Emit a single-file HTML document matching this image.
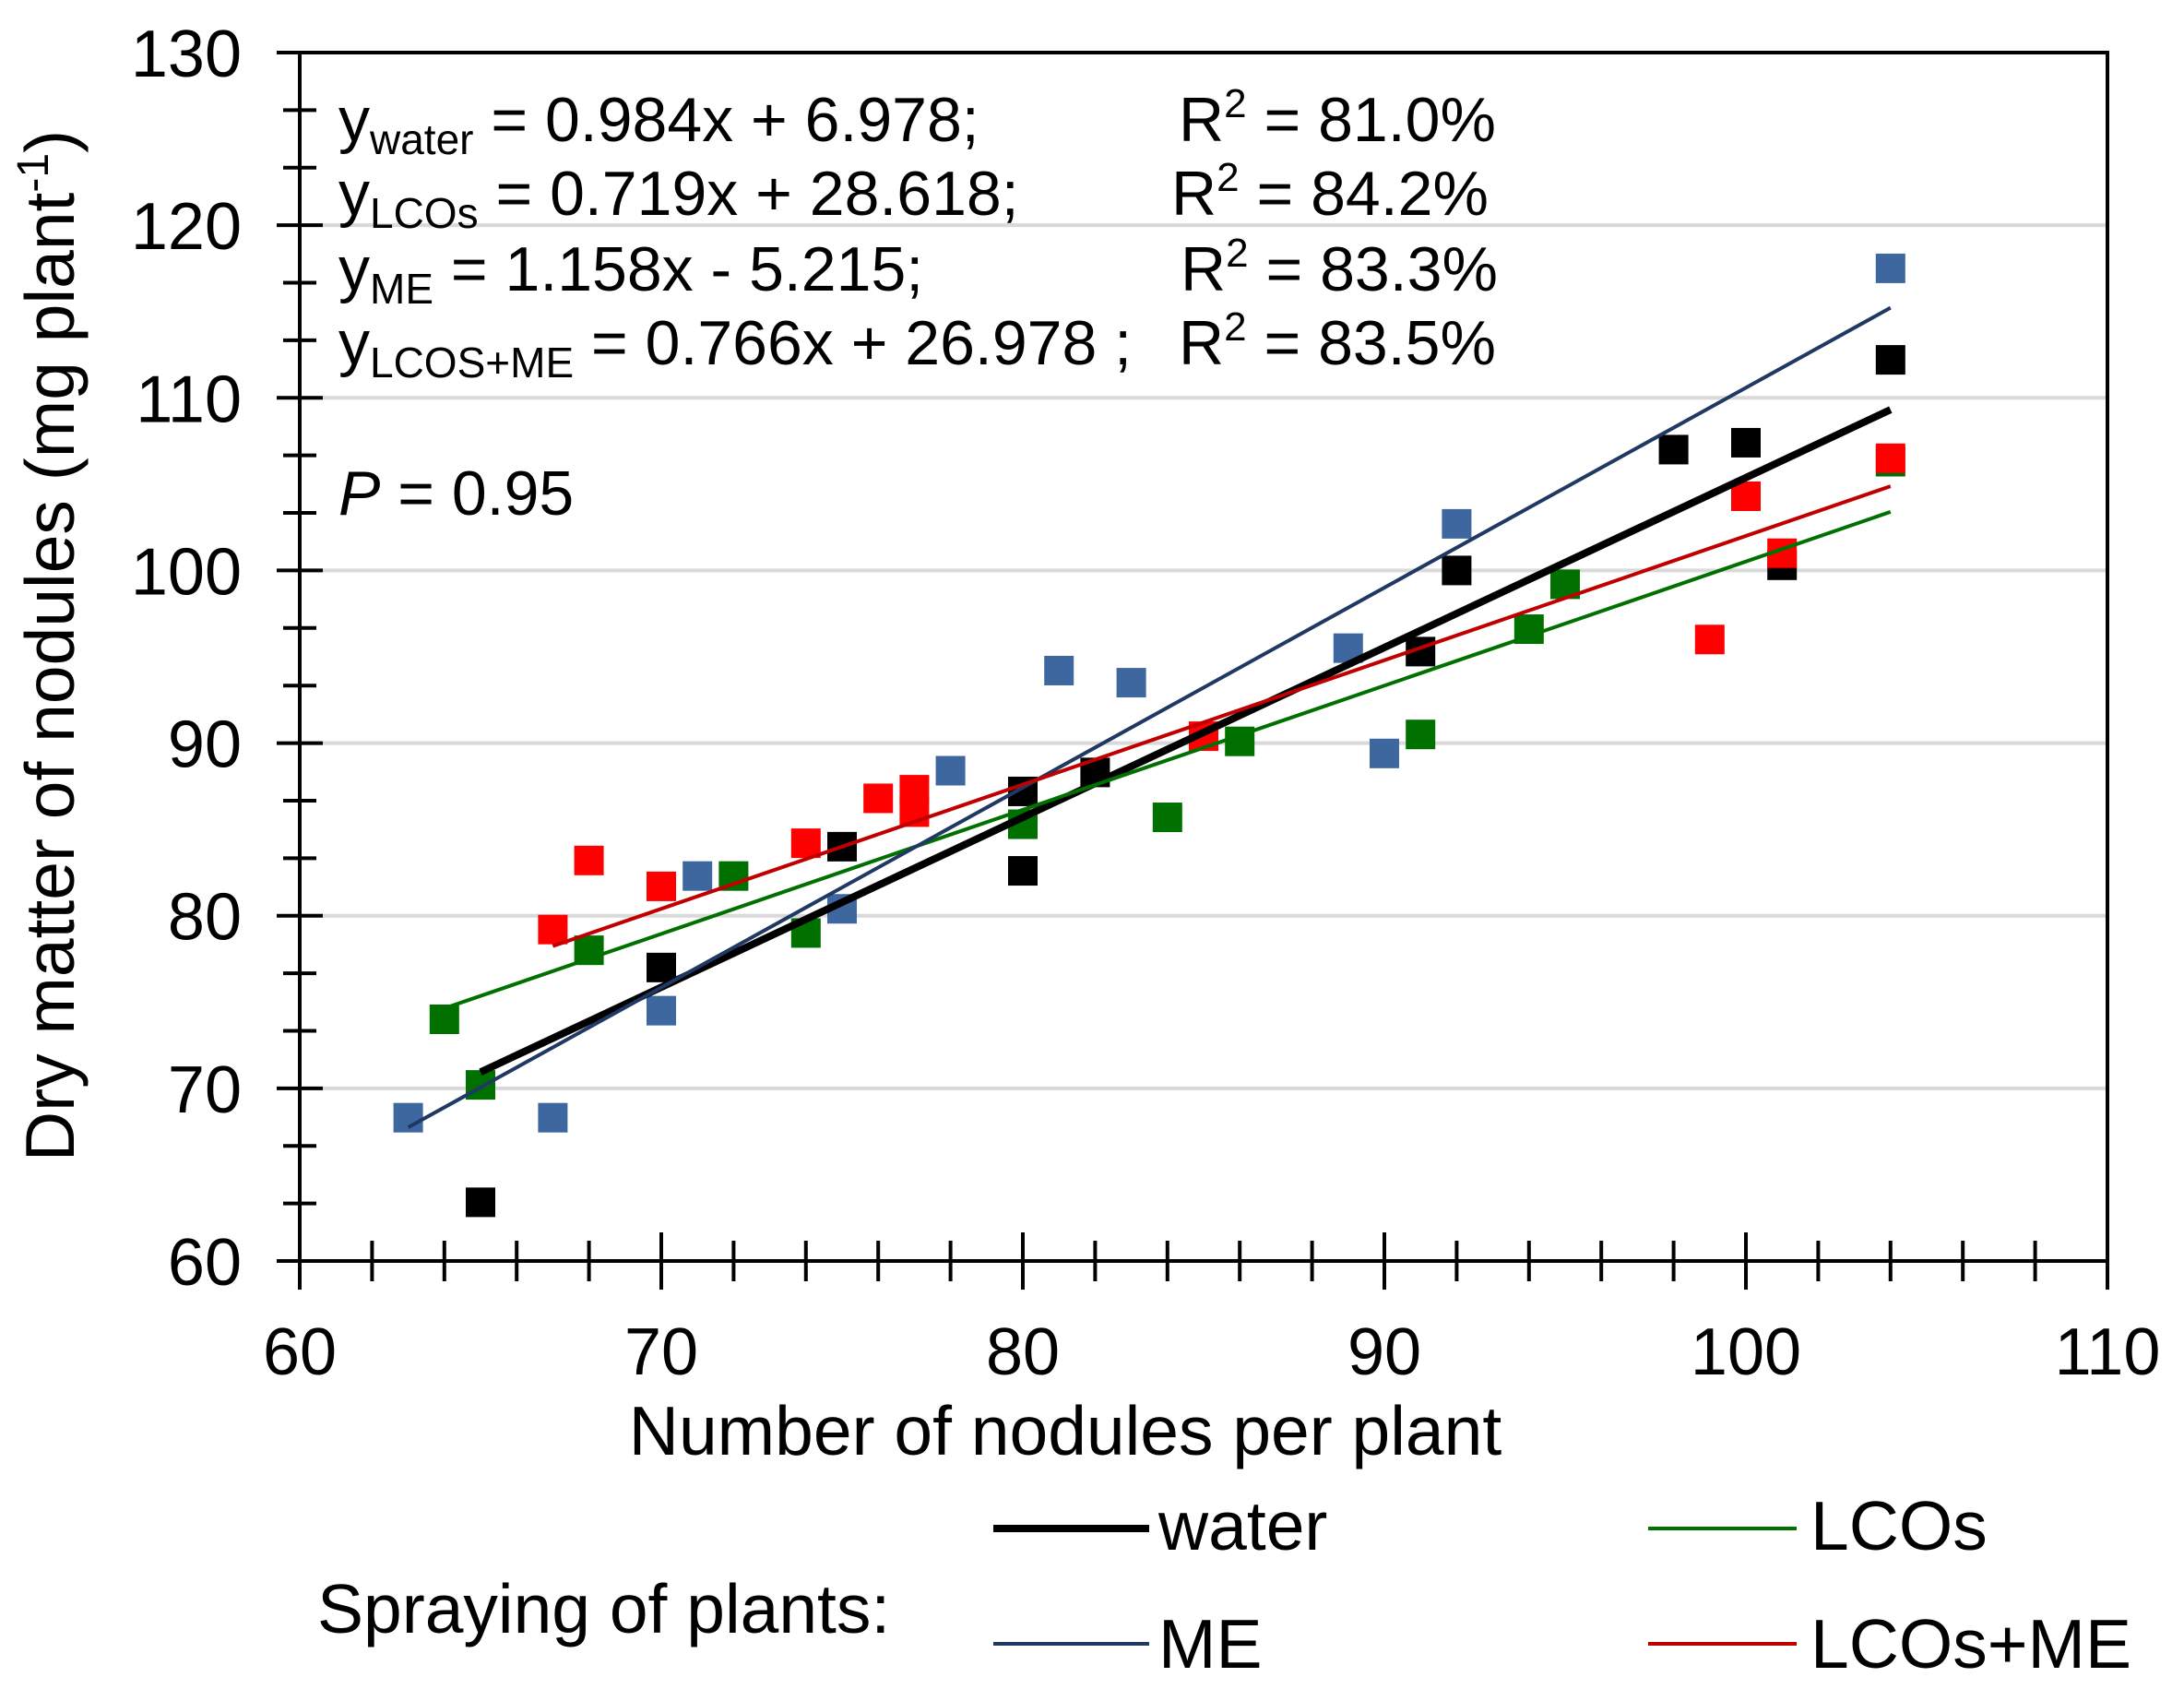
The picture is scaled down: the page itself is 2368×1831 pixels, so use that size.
<!DOCTYPE html>
<html><head><meta charset="utf-8"><style>
html,body{margin:0;padding:0;background:#fff}
svg{display:block;font-family:"Liberation Sans",Arial,sans-serif}
</style></head><body>
<svg id="chart" width="2368" height="1831" viewBox="0 0 2368 1831" xmlns="http://www.w3.org/2000/svg">
<g id="grid"></g>
<g id="lines"></g>
<g id="points"></g>
<g id="axes"></g>
<g font-size="68" fill="#000">
<text x="367" y="153">y<tspan font-size="46" dy="14">water</tspan><tspan dy="-14"> = 0.984x + 6.978;</tspan></text>
<text x="1278" y="153">R<tspan font-size="44" dy="-26">2</tspan><tspan dy="26"> = 81.0%</tspan></text>
<text x="367" y="233">y<tspan font-size="46" dy="14">LCOs</tspan><tspan dy="-14"> = 0.719x + 28.618;</tspan></text>
<text x="1270" y="233">R<tspan font-size="44" dy="-26">2</tspan><tspan dy="26"> = 84.2%</tspan></text>
<text x="367" y="315">y<tspan font-size="46" dy="14">ME</tspan><tspan dy="-14"> = 1.158x - 5.215;</tspan></text>
<text x="1280" y="315">R<tspan font-size="44" dy="-26">2</tspan><tspan dy="26"> = 83.3%</tspan></text>
<text x="367" y="395">y<tspan font-size="46" dy="14">LCOS+ME</tspan><tspan dy="-14"> = 0.766x + 26.978 ; </tspan></text>
<text x="1278" y="395">R<tspan font-size="44" dy="-26">2</tspan><tspan dy="26"> = 83.5%</tspan></text>
<text x="367" y="558"><tspan font-style="italic">P</tspan> = 0.95</text>
</g>
<text x="1155" y="1577" font-size="75" text-anchor="middle">Number of nodules per plant</text>
<text transform="translate(80,700) rotate(-90)" font-size="75" text-anchor="middle">Dry matter of nodules (mg plant<tspan font-size="48" dy="-28">-1</tspan><tspan dy="28">)</tspan></text>
<g font-size="75">
<text x="344" y="1770">Spraying of plants:</text>
<line x1="1077" y1="1657" x2="1246" y2="1657" stroke="#000" stroke-width="8"/>
<text x="1256" y="1680">water</text>
<line x1="1787" y1="1657" x2="1948" y2="1657" stroke="#007000" stroke-width="4"/>
<text x="1963" y="1680">LCOs</text>
<line x1="1077" y1="1782" x2="1246" y2="1782" stroke="#1F3864" stroke-width="4"/>
<text x="1256" y="1808">ME</text>
<line x1="1787" y1="1782" x2="1948" y2="1782" stroke="#C00000" stroke-width="4"/>
<text x="1963" y="1808">LCOs+ME</text>
</g>
</svg>
<script>
const xTicks = [60,70,80,90,100,110];
const yTicks = [60,70,80,90,100,110,120,130];
const waterX = [65,70,75,80,80,82,91,92,98,100,101,104];
const waterY = [63.4,77,84,87.2,82.6,88.3,95.3,100,107,107.4,100.3,112.2];
const lcosX = [64,65,68,72,74,80,84,86,91,94,95,104];
const lcosY = [74,70.2,78,82.3,79,85.3,85.7,90.1,90.5,96.6,99.2,106.3];
const meX = [63,67,70,71,75,78,81,83,89,90,92,104];
const meY = [68.3,68.3,74.5,82.3,80.4,88.4,94.2,93.5,95.5,89.4,102.7,117.5];
const lmX = [67,68,70,74,76,77,77,85,99,100,101,104];
const lmY = [79.2,83.2,81.7,84.2,86.8,87.3,86,90.4,96,104.3,101,106.5];
const slopes = [0.984,0.719,1.158,0.72];
const intercepts = [6.978,28.618,-5.215,30.0];

const NS="http://www.w3.org/2000/svg";
const X0=325,X1=2285,Y0=1367,Y1=57;
const sx=v=>X0+(v-60)/(110-60)*(X1-X0);
const sy=v=>Y0-(v-60)/(130-60)*(Y0-Y1);
function mk(tag,attrs,parent){const e=document.createElementNS(NS,tag);for(const k in attrs)e.setAttribute(k,attrs[k]);parent.appendChild(e);return e;}
const grid=document.getElementById('grid'),axes=document.getElementById('axes'),lines=document.getElementById('lines'),pts=document.getElementById('points');
yTicks.forEach(t=>{if(t===60||t===130)return;const l=mk('line',{x1:X0,x2:X1,y1:sy(t),y2:sy(t),stroke:'#d9d9d9','stroke-width':4},grid);

});
const fr=mk('rect',{x:X0,y:Y1,width:X1-X0,height:Y0-Y1,fill:'none',stroke:'#000','stroke-width':4},axes);


for(let v=60;v<=110;v+=2){const major=v%10===0;const L=major?31:22;
const t=mk('line',{x1:sx(v),x2:sx(v),y1:Y0-L,y2:Y0+L,stroke:'#000','stroke-width':4},axes);

}
xTicks.forEach(v=>{const t=mk('text',{x:sx(v),y:1490,'font-size':72,'text-anchor':'middle'},axes);t.textContent=v;

});
for(let i=0;i<=21;i++){const v=60+i*10/3;const major=i%3===0;const L=major?25:18;
const t=mk('line',{x1:X0-L,x2:X0+L,y1:sy(v),y2:sy(v),stroke:'#000','stroke-width':4},axes);

}
yTicks.forEach(v=>{const t=mk('text',{x:262,y:sy(v)+26,'font-size':72,'text-anchor':'end'},axes);t.textContent=v;

});
const series=[
 {name:'water',xs:waterX,ys:waterY,pc:'#000000',lc:'#000000',lw:8},
 {name:'lcos',xs:lcosX,ys:lcosY,pc:'#007000',lc:'#007000',lw:4},
 {name:'me',xs:meX,ys:meY,pc:'#3E67A0',lc:'#1F3864',lw:4},
 {name:'lcos-me',xs:lmX,ys:lmY,pc:'#FF0000',lc:'#C00000',lw:4}];
series.forEach((s,i)=>{s.xs.forEach((x,j)=>{const r=mk('rect',{x:sx(x)-16,y:sy(s.ys[j])-16,width:32,height:32,fill:s.pc},pts);

});});
series.forEach((s,i)=>{const a=Math.min(...s.xs),b=Math.max(...s.xs);
const l=mk('line',{x1:sx(a),y1:sy(slopes[i]*a+intercepts[i]),x2:sx(b),y2:sy(slopes[i]*b+intercepts[i]),stroke:s.lc,'stroke-width':s.lw},lines);

});
document.getElementById('chart').insertBefore(pts,lines);
</script>
</body></html>
